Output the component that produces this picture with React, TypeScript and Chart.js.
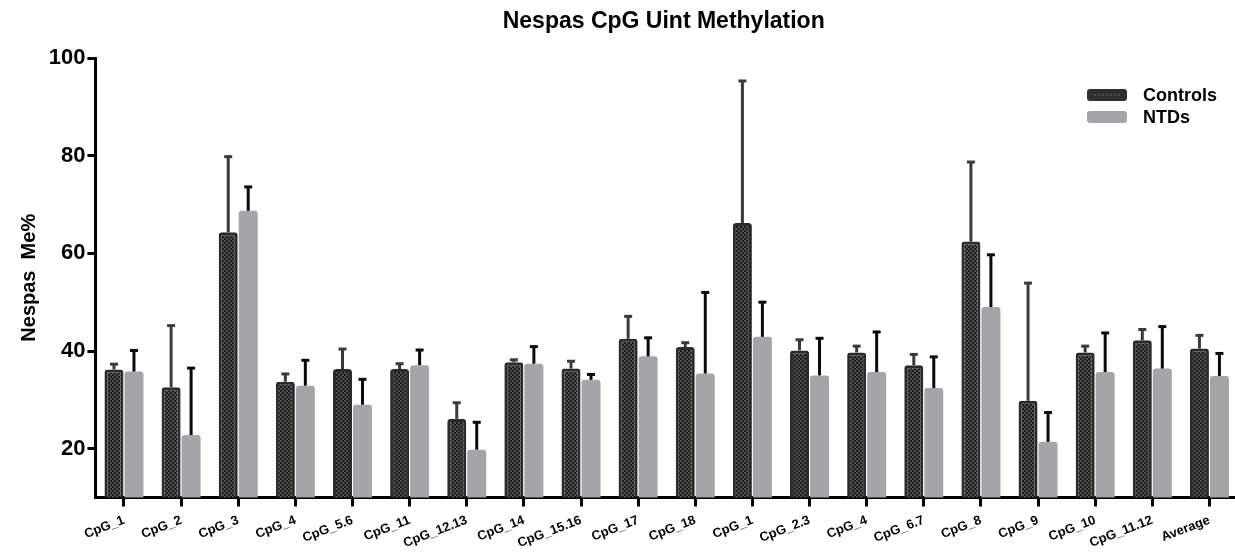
import React, { useEffect, useRef } from 'react';
import { Chart, registerables } from 'chart.js';

Chart.register(...registerables);

const chartTitle = 'Nespas CpG Uint Methylation';
const yAxisTitle = 'Nespas  Me%';
const seriesNames = ['Controls', 'NTDs'];

const categories = [
  'CpG_1', 'CpG_2', 'CpG_3', 'CpG_4', 'CpG_5.6', 'CpG_11', 'CpG_12.13', 'CpG_14', 'CpG_15.16', 'CpG_17',
  'CpG_18', 'CpG_1', 'CpG_2.3', 'CpG_4', 'CpG_6.7', 'CpG_8', 'CpG_9', 'CpG_10', 'CpG_11.12', 'Average',
];

const controlsMean = [36.2, 32.6, 64.3, 33.7, 36.3, 36.3, 26.1, 37.7, 36.4, 42.5, 40.8, 66.2, 40.1, 39.7, 37.1, 62.4, 29.8, 39.7, 42.2, 40.5];
const controlsErr = [1.1, 12.6, 15.5, 1.6, 4.1, 1.1, 3.3, 0.5, 1.5, 4.6, 0.9, 29.1, 2.2, 1.3, 2.2, 16.3, 24.1, 1.3, 2.2, 2.7];

const ntdsMean = [35.8, 22.8, 68.7, 32.9, 29.0, 37.1, 19.8, 37.4, 34.1, 38.9, 35.4, 42.9, 35.0, 35.7, 32.4, 49.0, 21.4, 35.7, 36.4, 34.9];
const ntdsErr = [4.3, 13.7, 4.9, 5.2, 5.2, 3.1, 5.6, 3.5, 1.1, 3.8, 16.6, 7.1, 7.6, 8.2, 6.4, 10.7, 6.0, 8.0, 8.6, 4.6];

const yTicks = [20, 40, 60, 80, 100];
const yMin = 10;
const yMax = 100;

const FONT = "'Liberation Sans', Arial, sans-serif";
const DARK = '#2b2b2b';
const GREY = '#a5a4a9';

function makeChecker(ctx: CanvasRenderingContext2D) {
  const c = document.createElement('canvas');
  c.width = 4;
  c.height = 4;
  const g = c.getContext('2d')!;
  g.fillStyle = '#1c1c1c';
  g.fillRect(0, 0, 4, 4);
  g.fillStyle = '#505050';
  g.fillRect(0, 0, 2, 2);
  g.fillRect(2, 2, 2, 2);
  return ctx.createPattern(c, 'repeat');
}

export default function App() {
  const ref = useRef<HTMLCanvasElement>(null);

  useEffect(() => {
    const canvas = ref.current!;
    const ctx = canvas.getContext('2d')!;
    const checker = makeChecker(ctx);
    const errors = [controlsErr, ntdsErr];
    const errColors = ['#3a3a3a', '#0a0a0a'];

    const errorBarPlugin = {
      id: 'errorBars',
      afterDatasetsDraw(chart: any) {
        const c = chart.ctx;
        const ys = chart.scales.y;
        chart.data.datasets.forEach((ds: any, i: number) => {
          const meta = chart.getDatasetMeta(i);
          meta.data.forEach((bar: any, j: number) => {
            const top = ys.getPixelForValue(ds.data[j] + errors[i][j]);
            c.save();
            c.strokeStyle = errColors[i];
            c.lineWidth = 3;
            c.beginPath();
            c.moveTo(bar.x, bar.y);
            c.lineTo(bar.x, top);
            c.stroke();
            c.beginPath();
            c.moveTo(bar.x - 4, top);
            c.lineTo(bar.x + 4, top);
            c.stroke();
            c.restore();
          });
        });
      },
    };

    const decorPlugin = {
      id: 'decor',
      afterDraw(chart: any) {
        const c = chart.ctx;
        const area = chart.chartArea;
        c.save();
        // Title
        c.fillStyle = '#000';
        c.font = `bold 23px ${FONT}`;
        c.textAlign = 'center';
        c.textBaseline = 'alphabetic';
        c.fillText(chartTitle, (area.left + area.right) / 2 - 3, 28);
        // Legend
        const lx = area.right - 151;
        const rows = [95, 117];
        seriesNames.forEach((name, i) => {
          const cy = rows[i];
          c.beginPath();
          c.roundRect(lx, cy - 6, 40, 12, 3);
          c.fillStyle = i === 0 ? '#2e2e2e' : GREY;
          c.fill();
          if (i === 0) {
            c.strokeStyle = '#6a6a6a';
            c.lineWidth = 1;
            c.setLineDash([2, 2]);
            c.beginPath();
            c.moveTo(lx + 7, cy);
            c.lineTo(lx + 33, cy);
            c.stroke();
            c.setLineDash([]);
          }
          c.fillStyle = '#000';
          c.font = `bold 18px ${FONT}`;
          c.textAlign = 'left';
          c.textBaseline = 'middle';
          c.fillText(name, lx + 56, cy + 1);
        });
        c.restore();
      },
    };

    const chart = new Chart(canvas, {
      type: 'bar',
      data: {
        labels: categories,
        datasets: [
          {
            label: seriesNames[0],
            data: controlsMean,
            backgroundColor: checker as any,
            borderColor: DARK,
            borderWidth: 3,
            borderSkipped: 'bottom',
            borderRadius: { topLeft: 3, topRight: 3, bottomLeft: 0, bottomRight: 0 },
            categoryPercentage: 0.7,
            barPercentage: 0.95,
          },
          {
            label: seriesNames[1],
            data: ntdsMean,
            backgroundColor: GREY,
            borderWidth: 0,
            borderSkipped: 'bottom',
            borderRadius: { topLeft: 3, topRight: 3, bottomLeft: 0, bottomRight: 0 },
            categoryPercentage: 0.7,
            barPercentage: 0.95,
          },
        ],
      },
      options: {
        responsive: false,
        animation: false,
        layout: { padding: { top: 58, left: 0, right: 0, bottom: 0 } },
        plugins: {
          legend: { display: false },
          title: { display: false },
          tooltip: { enabled: false },
        },
        scales: {
          x: {
            afterFit: (s: any) => { s.height = 54.5; },
            grid: {
              display: true,
              drawOnChartArea: false,
              drawTicks: true,
              tickLength: 9,
              tickWidth: 3,
              tickColor: '#000',
              offset: false,
            },
            border: { display: true, color: '#000', width: 3 },
            ticks: {
              autoSkip: false,
              minRotation: 21,
              maxRotation: 21,
              padding: 6,
              color: '#000',
              font: { family: FONT, size: 13, weight: 'bold' },
            },
          },
          y: {
            min: yMin,
            max: yMax,
            afterFit: (s: any) => { s.width = 95.4; },
            afterBuildTicks: (s: any) => { s.ticks = yTicks.map((v) => ({ value: v })); },
            grid: {
              display: true,
              drawOnChartArea: false,
              drawTicks: true,
              tickLength: 8,
              tickWidth: 3,
              tickColor: '#000',
            },
            border: { display: true, color: '#000', width: 3 },
            ticks: {
              padding: 2,
              color: '#000',
              font: { family: FONT, size: 22, weight: 'bold' },
            },
            title: {
              display: true,
              text: yAxisTitle,
              color: '#000',
              padding: { top: 17, bottom: 0 },
              font: { family: FONT, size: 20, weight: 'bold' },
            },
          },
        },
      },
      plugins: [errorBarPlugin, decorPlugin],
    } as any);

    return () => chart.destroy();
  }, []);

  return (
    <div style={{ position: 'absolute', left: 0, top: 0, width: 1235, height: 552, overflow: 'hidden', background: '#fff' }}>
      <canvas ref={ref} width={1238} height={552} style={{ display: 'block' }} />
    </div>
  );
}
